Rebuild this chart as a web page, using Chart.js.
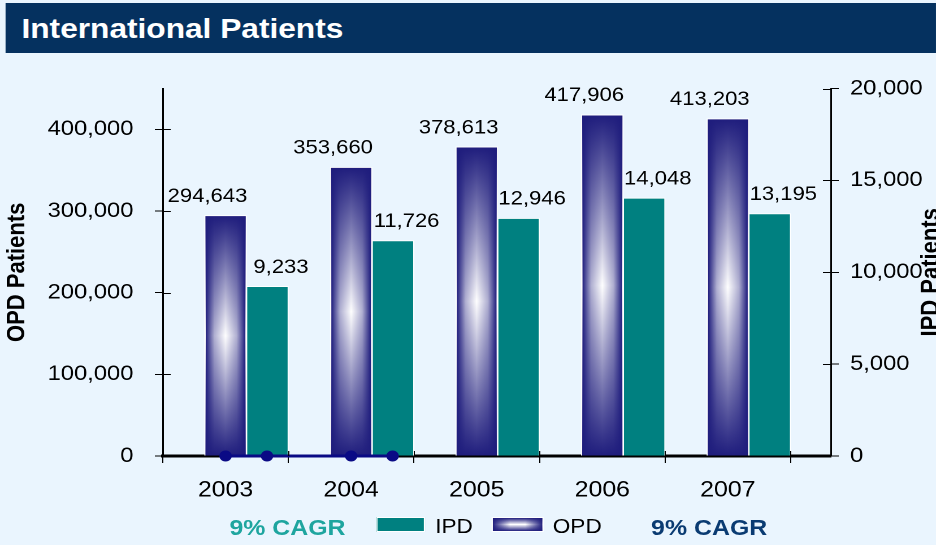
<!DOCTYPE html>
<html>
<head>
<meta charset="utf-8">
<title>International Patients</title>
<script src="https://cdn.jsdelivr.net/npm/chart.js@4.4.1/dist/chart.umd.min.js"></script>
<style>
  html, body { margin: 0; padding: 0; background: #eaf5fe; overflow: hidden; }
  /* The source slide is stretched sideways (~1.13x), so everything is laid
     out on an 828px-wide page and then stretched to the 936px window. */
  #page { position: relative; width: 828px; height: 545px; transform: scaleX(1.1304); transform-origin: 0 0;
          font-family: "Liberation Sans", Arial, sans-serif; color: #000; }
  #title { position: absolute; left: 5px; top: 3px; right: 0; height: 50px; background: #05315f; color: #fff;
           font-weight: bold; font-size: 28px; line-height: 52px; padding-left: 14px; }
  #chart { position: absolute; left: 0; top: 57px; }
  .lg { position: absolute; transform: translateY(-50%); white-space: nowrap; }
  .lg-text { font-size: 20px; top: 526px; }
  .lg-cagr { font-size: 22px; font-weight: bold; top: 528px; }
  .swatch { position: absolute; top: 517px; height: 15px; box-sizing: border-box; border: 1.5px solid #fff; }
</style>
</head>
<body>
<div id="page">
  <div id="title">International Patients</div>
  <canvas id="chart" width="828" height="488"></canvas>
  <div class="lg lg-cagr" style="left:203px;color:#1ea59f">9% CAGR</div>
  <div class="swatch" style="left:333px;width:43px;background:#008080"></div>
  <div class="lg lg-text" style="left:385px">IPD</div>
  <div class="swatch" style="left:435px;width:46px;background:linear-gradient(to right,#1f1d7d,rgba(255,255,255,0) 35%,rgba(255,255,255,0) 65%,#1f1d7d),linear-gradient(#1f1d7d,#ffffff 50%,#1f1d7d)"></div>
  <div class="lg lg-text" style="left:489px">OPD</div>
  <div class="lg lg-cagr" style="left:576px;color:#0a3b72">9% CAGR</div>
</div>
<script>
const YEARS = ["2003", "2004", "2005", "2006", "2007"];
const OPD = [294643, 353660, 378613, 417906, 413203];
const IPD = [9233, 11726, 12946, 14048, 13195];
const OPD_TICKS = [0, 100000, 200000, 300000, 400000];
const IPD_TICKS = [0, 5000, 10000, 15000, 20000];
// navy CAGR marker line sitting on the baseline under 2003-2004
const CAGR_DOT_X = [0, 0.33, 1, 1.33];
const CAGR_DOT_Y = [0, 0, 0, 0];

const NAVY = "#1f1d7d";
const TEAL = "#008080";
const FONT = '"Liberation Sans", Arial, sans-serif';

Chart.defaults.font.family = FONT;
Chart.defaults.color = "#000";

const yearIdx = YEARS.map(function (_, i) { return i; });
function points(xs, ys) {
  return xs.map(function (x, i) { return { x: x, y: ys[i] }; });
}
function fmt(v) { return Number(v).toLocaleString("en-US"); }

// OPD bars: navy at top and base, fading to white in the middle
function opdFill(c) {
  const chart = c.chart;
  if (c.type !== "data" || !chart.chartArea) return NAVY;
  const y = chart.scales.y;
  const top = y.getPixelForValue(c.parsed.y);
  const base = y.getPixelForValue(0);
  const g = chart.ctx.createLinearGradient(0, top, 0, base);
  g.addColorStop(0, NAVY);
  g.addColorStop(0.5, "#ffffff");
  g.addColorStop(1, NAVY);
  return g;
}

const OPD_DS = 2, IPD_DS = 3;

// darken the OPD bars' sides too, so the shading reads as "from centre"
const opdSides = {
  id: "opdSides",
  afterDatasetDraw(chart, args) {
    if (args.index !== OPD_DS) return;
    const ctx = chart.ctx;
    args.meta.data.forEach(function (bar) {
      const p = bar.getProps(["x", "y", "base", "width"], true);
      const l = p.x - p.width / 2 + 1, r = p.x + p.width / 2 - 1;
      const g = ctx.createLinearGradient(l, 0, r, 0);
      g.addColorStop(0, "rgba(31,29,125,1)");
      g.addColorStop(0.22, "rgba(31,29,125,0.35)");
      g.addColorStop(0.5, "rgba(31,29,125,0)");
      g.addColorStop(0.78, "rgba(31,29,125,0.35)");
      g.addColorStop(1, "rgba(31,29,125,1)");
      ctx.save();
      ctx.fillStyle = g;
      ctx.fillRect(l, p.y + 1, r - l, p.base - p.y - 1);
      ctx.restore();
    });
  }
};

const valueLabels = {
  id: "valueLabels",
  afterDatasetsDraw(chart) {
    const ctx = chart.ctx;
    ctx.save();
    ctx.font = "19.5px " + FONT;
    ctx.fillStyle = "#000";
    ctx.textAlign = "center";
    ctx.textBaseline = "middle";
    [[OPD_DS, OPD, -16], [IPD_DS, IPD, 12]].forEach(function (set) {
      chart.getDatasetMeta(set[0]).data.forEach(function (bar, i) {
        ctx.fillText(fmt(set[1][i]), bar.x + set[2], bar.y - 19);
      });
    });
    ctx.restore();
  }
};

// Excel-style "cross" tick marks: add the inner half of each tick
const crossTicks = {
  id: "crossTicks",
  afterDatasetsDraw(chart) {
    const ctx = chart.ctx;
    const yl = chart.scales.y, yr = chart.scales.y2, x = chart.scales.x;
    ctx.save();
    ctx.strokeStyle = "#000";
    ctx.lineWidth = 1;
    ctx.beginPath();
    yl.ticks.forEach(function (t) {
      const py = Math.round(yl.getPixelForValue(t.value)) + 0.5;
      ctx.moveTo(yl.right, py); ctx.lineTo(yl.right + 7, py);
    });
    yr.ticks.forEach(function (t) {
      const py = Math.round(yr.getPixelForValue(t.value)) + 0.5;
      ctx.moveTo(yr.left - 7, py); ctx.lineTo(yr.left, py);
    });
    for (let i = 0; i <= YEARS.length; i++) {
      const px = Math.round(x.getPixelForValue(i - 0.5)) + 0.5;
      ctx.moveTo(px, x.top - 5); ctx.lineTo(px, x.top);
    }
    ctx.stroke();
    ctx.restore();
  }
};

// right axis title reads bottom-to-top and runs off the slide edge
const rightTitle = {
  id: "rightTitle",
  afterDraw(chart) {
    const s = chart.scales.y2, a = chart.chartArea, ctx = chart.ctx;
    ctx.save();
    ctx.translate(s.right - 4, (a.top + a.bottom) / 2);
    ctx.rotate(-Math.PI / 2);
    ctx.font = "bold 22px " + FONT;
    ctx.fillStyle = "#000";
    ctx.textAlign = "center";
    ctx.textBaseline = "middle";
    ctx.fillText("IPD Patients", 0, 0);
    ctx.restore();
  }
};

function fixedTicks(values) {
  return function (scale) {
    scale.ticks = values.map(function (v) { return { value: v }; });
  };
}

new Chart(document.getElementById("chart"), {
  type: "bar",
  data: {
    datasets: [
      {
        type: "line",
        label: "CAGR",
        data: points(CAGR_DOT_X, CAGR_DOT_Y),
        yAxisID: "y",
        borderColor: "#0a0a85",
        borderWidth: 3,
        pointRadius: 5.5,
        pointBackgroundColor: "#0a0a85",
        pointBorderWidth: 0,
        clip: false,
        order: -1
      },
      {
        // empty slot: the source has a blank bar left of each OPD bar
        label: "",
        data: points(yearIdx, YEARS.map(function () { return null; })),
        yAxisID: "y"
      },
      {
        label: "OPD",
        data: points(yearIdx, OPD),
        yAxisID: "y",
        backgroundColor: opdFill,
        borderColor: "#ffffff",
        borderWidth: 1
      },
      {
        label: "IPD",
        data: points(yearIdx, IPD),
        yAxisID: "y2",
        backgroundColor: TEAL,
        borderColor: "#ffffff",
        borderWidth: 1
      }
    ]
  },
  options: {
    responsive: false,
    devicePixelRatio: 2,
    animation: false,
    barPercentage: 1,
    categoryPercentage: 1,
    layout: { padding: { top: 31, left: 0, right: 0, bottom: 0 } },
    plugins: { legend: { display: false }, tooltip: { enabled: false } },
    scales: {
      x: {
        type: "linear",
        position: "bottom",
        offset: false,
        min: -0.5,
        max: 4.82,
        afterBuildTicks: fixedTicks(yearIdx),
        afterFit: function (s) { s.height = 89; },
        grid: { offset: true, drawOnChartArea: false, tickLength: 7, color: "#000" },
        border: { color: "#000", width: 3 },
        ticks: {
          autoSkip: false,
          maxRotation: 0,
          padding: 14,
          font: { size: 22 },
          callback: function (v, i) { return YEARS[i]; }
        }
      },
      y: {
        position: "left",
        min: 0,
        max: 450000,
        afterBuildTicks: fixedTicks(OPD_TICKS),
        afterFit: function (s) { s.width = 144; },
        grid: { drawOnChartArea: false, tickLength: 7, color: "#000" },
        border: { color: "#000", width: 1.5 },
        ticks: { padding: 19, font: { size: 21 }, callback: fmt },
        title: {
          display: true,
          text: "OPD Patients",
          font: { size: 22, weight: "bold" },
          padding: { top: 2, bottom: 0 }
        }
      },
      y2: {
        position: "right",
        min: 0,
        max: 20000,
        afterBuildTicks: fixedTicks(IPD_TICKS),
        afterFit: function (s) { s.width = 93; },
        grid: { drawOnChartArea: false, tickLength: 7, color: "#000" },
        border: { color: "#000", width: 1.5 },
        ticks: { padding: 10, font: { size: 21 }, callback: fmt }
      }
    }
  },
  plugins: [opdSides, valueLabels, crossTicks, rightTitle]
});
</script>
</body>
</html>
